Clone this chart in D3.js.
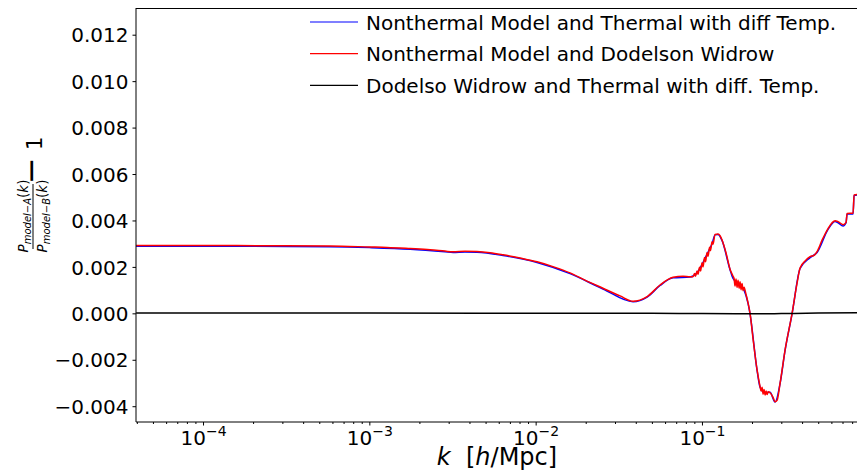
<!DOCTYPE html>
<html>
<head>
<meta charset="utf-8">
<script src="https://cdn.jsdelivr.net/npm/d3@7"></script>
<style>
  body { margin: 0; background: #fff; }
  svg { font-family: "DejaVu Sans", sans-serif; }
</style>
</head>
<body>
<script>
// Width and height
var w = 857;
var h = 470;

// Data: k in h/Mpc, ratio - 1
var kRed = [3.96e-5, 1.0e-4, 3.16e-4, 5.80e-4, 1.0e-3, 1.28e-3, 1.76e-3, 2.32e-3, 2.85e-3, 3.19e-3,
            3.76e-3, 4.44e-3, 5.32e-3, 6.37e-3, 8.06e-3, 1.02e-2, 1.31e-2, 1.61e-2, 1.98e-2, 2.54e-2,
            3.22e-2, 3.85e-2, 4.68e-2, 5.60e-2, 6.70e-2, 7.70e-2, 8.48e-2, 8.84e-2, 9.03e-2, 9.15e-2,
            9.34e-2, 9.47e-2, 9.67e-2, 9.81e-2, 0.1001, 0.1015, 0.1036, 0.1051, 0.1073, 0.1088,
            0.1111, 0.1126, 0.1150, 0.1166, 0.1199, 0.1249, 0.1284, 0.1320, 0.1396, 0.1475,
            0.1538, 0.1560, 0.1581, 0.1603, 0.1626, 0.1649, 0.1672, 0.1695, 0.1718, 0.1742,
            0.1767, 0.1791, 0.1842, 0.1893, 0.1946, 0.2029, 0.2145, 0.2236, 0.2267, 0.2299,
            0.2331, 0.2363, 0.2396, 0.2429, 0.2463, 0.2497, 0.2567, 0.2676, 0.2751, 0.2828,
            0.2948, 0.3160, 0.3482, 0.3731, 0.3889, 0.4169, 0.4467, 0.4721, 0.4921, 0.5274,
            0.5731, 0.6058, 0.6316, 0.6583, 0.7054, 0.7355, 0.7458, 0.8104, 0.8215, 0.8562];
var vRed = [0.00292, 0.00292, 0.00291, 0.00290, 0.00286, 0.00284, 0.00279, 0.00274, 0.00268, 0.00265,
            0.00267, 0.00266, 0.00261, 0.00252, 0.00238, 0.00222, 0.00198, 0.00174, 0.00143, 0.00108,
            0.00075, 0.00052, 0.00072, 0.00122, 0.00155, 0.00160, 0.00158, 0.00158, 0.00172, 0.00160,
            0.00182, 0.00168, 0.00198, 0.00182, 0.00218, 0.00200, 0.00240, 0.00222, 0.00262, 0.00245,
            0.00285, 0.00270, 0.00308, 0.00298, 0.00340, 0.00342, 0.00335, 0.00316, 0.00260, 0.00190,
            0.00160, 0.00150, 0.00118, 0.00148, 0.00112, 0.00142, 0.00108, 0.00136, 0.00102, 0.00128,
            0.00098, 0.00112, 0.00080, 0.00045, 0.00000, -0.00110, -0.00244, -0.00316, -0.00335, -0.00318,
            -0.00348, -0.00328, -0.00352, -0.00335, -0.00350, -0.00338, -0.00342, -0.00362, -0.00381, -0.00375,
            -0.00302, -0.00158, 0.00000, 0.00130, 0.00195, 0.00225, 0.00244, 0.00250, 0.00266, 0.00315,
            0.00365, 0.00390, 0.00399, 0.00395, 0.00382, 0.00392, 0.00430, 0.00431, 0.00510, 0.00512];

var kBlue = [3.96e-5, 1.0e-4, 3.16e-4, 5.80e-4, 1.0e-3, 1.76e-3, 2.85e-3, 3.19e-3, 3.76e-3, 4.44e-3,
             6.37e-3, 1.02e-2, 1.61e-2, 2.54e-2, 3.85e-2, 4.68e-2, 5.60e-2, 6.70e-2, 8.48e-2, 9.34e-2,
             0.1001, 0.1073, 0.1150, 0.1199, 0.1249, 0.1320, 0.1475, 0.1538, 0.1695, 0.1791,
             0.1893, 0.1946, 0.2145, 0.2236, 0.2396, 0.2567, 0.2751, 0.2948, 0.3160, 0.3482,
             0.3889, 0.4467, 0.4921, 0.5731, 0.6316, 0.6583, 0.7054, 0.7355, 0.7458, 0.8104,
             0.8215, 0.8562];
var vBlue = [0.00289, 0.00289, 0.00288, 0.00287, 0.00283, 0.00276, 0.00265, 0.00262, 0.00264, 0.00263,
             0.00249, 0.00219, 0.00171, 0.00105, 0.00050, 0.00070, 0.00120, 0.00153, 0.00156, 0.00175,
             0.00210, 0.00255, 0.00300, 0.00338, 0.00340, 0.00314, 0.00188, 0.00150, 0.00120, 0.00100,
             0.00043, -0.00002, -0.00246, -0.00318, -0.00342, -0.00340, -0.00382, -0.00303, -0.00160, -0.00002,
             0.00193, 0.00240, 0.00262, 0.00362, 0.00396, 0.00390, 0.00376, 0.00390, 0.00428, 0.00428,
             0.00508, 0.00510];

var kBlack = [3.96e-5, 1.0e-3, 1.0e-2, 5.0e-2, 0.1, 0.2, 0.3, 0.5, 0.8562];
var vBlack = [0.00001, 0.00001, 0.000005, 0.0, -0.00001, -0.00002, -0.00001, 0.00001, 0.00002];

var legendLabels = ["Nonthermal Model and Thermal with diff Temp.",
                    "Nonthermal Model and Dodelson Widrow",
                    "Dodelso Widrow and Thermal with diff. Temp."];
var legendColors = ["#0000ff", "#ff0000", "#000000"];

var yTicks = [-0.004, -0.002, 0.000, 0.002, 0.004, 0.006, 0.008, 0.010, 0.012];
var xMajor = [1e-4, 1e-3, 1e-2, 1e-1];
var xExp = ["\u22124", "\u22123", "\u22122", "\u22121"];

// Plot area (names avoid window.top)
var pLeft = 136, pRight = 857, pTop = 8, pBottom = 422;

var x = d3.scaleLog().domain([3.954e-5, 0.8555]).range([pLeft, pRight]);
var y = d3.scaleLinear().domain([-0.00468, 0.01315]).range([pBottom, pTop]);

var xMinor = [];
for (var e = -5; e <= 0; e++) {
  for (var m = 2; m <= 9; m++) {
    var v = m * Math.pow(10, e);
    if (v >= x.domain()[0] && v <= x.domain()[1]) xMinor.push(v);
  }
}

// Create SVG element
var svg = d3.select("body")
            .append("svg")
            .attr("width", w)
            .attr("height", h);

svg.append("clipPath").attr("id", "clip")
   .append("rect")
   .attr("x", pLeft).attr("y", pTop)
   .attr("width", pRight - pLeft).attr("height", pBottom - pTop);

// Lines
var line = d3.line()
             .curve(d3.curveMonotoneX)
             .x(function(d) { return x(d[0]); })
             .y(function(d) { return y(d[1]); });

var series = [
  { k: kBlue, v: vBlue, color: "#0000ff" },
  { k: kRed, v: vRed, color: "#ff0000" },
  { k: kBlack, v: vBlack, color: "#000000" }
];

svg.append("g")
   .attr("clip-path", "url(#clip)")
   .selectAll("path")
   .data(series)
   .enter()
   .append("path")
   .attr("d", function(s) { return line(d3.zip(s.k, s.v)); })
   .attr("fill", "none")
   .attr("stroke", function(s) { return s.color; })
   .attr("stroke-width", 1.5)
   .attr("stroke-linejoin", "round");

// Y axis
var yAxis = svg.append("g")
   .attr("transform", "translate(" + pLeft + ",0)")
   .call(d3.axisLeft(y).tickValues(yTicks).tickSize(3.5).tickPadding(4)
           .tickFormat(d3.format(".3f")));
yAxis.select(".domain").remove();
yAxis.selectAll("text")
     .attr("font-size", "20px")
     .attr("font-family", "DejaVu Sans")
     .attr("fill", "#000")
     .attr("dy", "0.36em");

// X axis, major ticks
var xAxis = svg.append("g")
   .attr("transform", "translate(0," + pBottom + ")")
   .call(d3.axisBottom(x).tickValues(xMajor).tickSize(3.5).tickFormat(""));
xAxis.select(".domain").remove();
xAxis.selectAll(".tick text").remove();
xAxis.selectAll(".tick")
     .append("text")
     .attr("y", 23)
     .attr("fill", "#000")
     .attr("text-anchor", "middle")
     .attr("font-family", "DejaVu Sans")
     .each(function(d, i) {
       var t = d3.select(this);
       t.append("tspan").attr("font-size", "20px").text("10");
       t.append("tspan").attr("font-size", "14px").attr("dy", -9).text(xExp[i]);
     });

// X axis, minor ticks
var xMinorAxis = svg.append("g")
   .attr("transform", "translate(0," + pBottom + ")")
   .call(d3.axisBottom(x).tickValues(xMinor).tickSize(2).tickFormat(""));
xMinorAxis.select(".domain").remove();

// Spines
svg.append("line").attr("x1", pLeft).attr("x2", pLeft).attr("y1", pTop).attr("y2", pBottom)
   .attr("stroke", "#000").attr("stroke-width", 1);
svg.append("line").attr("x1", pLeft).attr("x2", pRight).attr("y1", pBottom).attr("y2", pBottom)
   .attr("stroke", "#000").attr("stroke-width", 1);
svg.append("line").attr("x1", pLeft).attr("x2", pRight).attr("y1", pTop + 0.5).attr("y2", pTop + 0.5)
   .attr("stroke", "#000").attr("stroke-width", 1);

// Legend
var legend = svg.selectAll("g.legend")
   .data(legendLabels)
   .enter()
   .append("g")
   .attr("class", "legend")
   .attr("transform", function(d, i) { return "translate(310," + (22 + i * 31.7) + ")"; });
legend.append("line")
   .attr("x1", 0).attr("x2", 48)
   .attr("stroke", function(d, i) { return legendColors[i]; })
   .attr("stroke-width", 1.2);
legend.append("text")
   .attr("x", 56)
   .attr("y", 7.5)
   .attr("font-size", "20px")
   .attr("fill", "#000")
   .text(function(d) { return d; });

// X label
var xl = svg.append("text")
   .attr("x", 497)
   .attr("y", 465)
   .attr("text-anchor", "middle")
   .attr("font-size", "24px");
xl.append("tspan").attr("font-style", "italic").text("k");
xl.append("tspan").attr("xml:space", "preserve").text("  [");
xl.append("tspan").attr("font-style", "italic").text("h");
xl.append("tspan").text("/Mpc]");

// Y label: fraction minus one, rotated
var yl = svg.append("g").attr("transform", "rotate(-90)");
var num = yl.append("text")
   .attr("x", -216).attr("y", 28)
   .attr("text-anchor", "middle")
   .attr("font-size", "13.5px");
num.append("tspan").attr("font-style", "italic").text("P");
num.append("tspan").attr("font-style", "italic").attr("font-size", "10px").attr("dy", 3).text("model\u2212A");
num.append("tspan").attr("dy", -3).text("(");
num.append("tspan").attr("font-style", "italic").text("k");
num.append("tspan").text(")");

var den = yl.append("text")
   .attr("x", -216).attr("y", 47)
   .attr("text-anchor", "middle")
   .attr("font-size", "13.5px");
den.append("tspan").attr("font-style", "italic").text("P");
den.append("tspan").attr("font-style", "italic").attr("font-size", "10px").attr("dy", 3).text("model\u2212B");
den.append("tspan").attr("dy", -3).text("(");
den.append("tspan").attr("font-style", "italic").text("k");
den.append("tspan").text(")");

yl.append("line")
   .attr("x1", -249).attr("x2", -184)
   .attr("y1", 33).attr("y2", 33)
   .attr("stroke", "#000").attr("stroke-width", 1);

yl.append("text")
   .attr("x", -184).attr("y", 42)
   .attr("font-size", "32px")
   .text("\u2212");
yl.append("text")
   .attr("x", -150).attr("y", 42)
   .attr("font-size", "21px")
   .text("1");
</script>
</body>
</html>
